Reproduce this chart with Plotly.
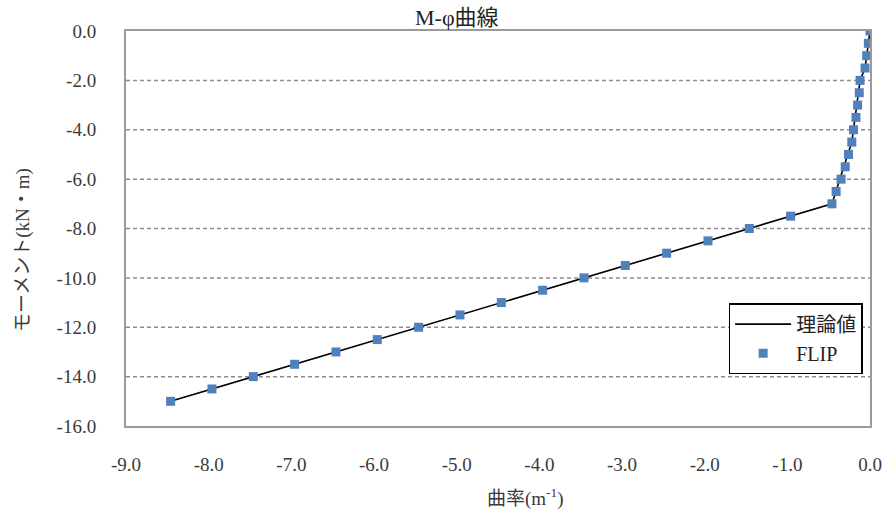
import plotly.graph_objects as go

# Theoretical M-phi relation
theory_phi = [0.0, -0.06, -0.12, -0.22, -0.46, -8.46]
theory_m = [0.0, -1.5, -2.0, -4.5, -7.0, -15.0]

# FLIP results
flip_phi = [0.0, -0.02, -0.04, -0.06, -0.12, -0.13, -0.15, -0.17, -0.20, -0.22,
            -0.26, -0.30, -0.35, -0.41, -0.46,
            -0.96, -1.46, -1.96, -2.46, -2.96, -3.46, -3.96, -4.46, -4.96,
            -5.46, -5.96, -6.46, -6.96, -7.46, -7.96, -8.46]
flip_m = [0.0, -0.5, -1.0, -1.5, -2.0, -2.5, -3.0, -3.5, -4.0, -4.5,
          -5.0, -5.5, -6.0, -6.5, -7.0,
          -7.5, -8.0, -8.5, -9.0, -9.5, -10.0, -10.5, -11.0, -11.5,
          -12.0, -12.5, -13.0, -13.5, -14.0, -14.5, -15.0]

x_ticks = [-9.0, -8.0, -7.0, -6.0, -5.0, -4.0, -3.0, -2.0, -1.0, 0.0]
y_ticks = [0.0, -2.0, -4.0, -6.0, -8.0, -10.0, -12.0, -14.0, -16.0]

SERIF = "Liberation Serif, Times New Roman, Noto Sans CJK JP, serif"
TXT = "#3a3a3a"

fig = go.Figure()
fig.add_trace(go.Scatter(
    x=theory_phi, y=theory_m, mode="lines", name="理論値",
    line=dict(color="#000000", width=1.6),
))
fig.add_trace(go.Scatter(
    x=flip_phi, y=flip_m, mode="markers", name="FLIP",
    marker=dict(symbol="square", size=9, color="#4F81BD"),
))

# horizontal dashed gridlines
for v in y_ticks[1:-1]:
    fig.add_shape(type="line", xref="paper", x0=0, x1=1, yref="y", y0=v, y1=v,
                  line=dict(color="#8c8c8c", width=1.5, dash="4px,3px"), layer="below")

fig.update_layout(
    width=894, height=517,
    margin=dict(l=126, r=16, t=31, b=91),
    paper_bgcolor="white", plot_bgcolor="white",
    font=dict(family=SERIF, size=19, color=TXT),
    showlegend=True,
    legend=dict(
        x=0.81, y=0.311, xanchor="left", yanchor="top",
        bgcolor="white", bordercolor="#000000", borderwidth=1.5,
        font=dict(family=SERIF, size=20, color="#222222"),
        itemwidth=56, tracegroupgap=4,
    ),
    xaxis=dict(
        range=[-9, 0], tickvals=x_ticks, ticktext=[f"{v:.1f}" for v in x_ticks],
        showgrid=False, zeroline=False, showline=True, mirror=True,
        linecolor="#9a9a9a", linewidth=2, ticks="", ticklabelstandoff=20,
        tickfont=dict(family=SERIF, size=19, color=TXT),
    ),
    yaxis=dict(
        range=[-16, 0], tickvals=y_ticks, ticktext=[f"{v:.1f}" for v in y_ticks],
        showgrid=False, zeroline=False, showline=True, mirror=True,
        linecolor="#9a9a9a", linewidth=2, ticks="", ticklabelstandoff=24,
        tickfont=dict(family=SERIF, size=19, color=TXT),
    ),
    annotations=[
        dict(text="M-φ曲線", xref="paper", yref="paper", x=0.4455, y=(426 - 17) / 395,
             xanchor="center", yanchor="middle",
             showarrow=False, font=dict(family=SERIF, size=22, color="#222222")),
        dict(text="曲率(m<sup>-1</sup>)", xref="paper", yref="paper", x=(530 - 126) / 752,
             y=(426 - 497) / 395, xanchor="center", yanchor="middle",
             showarrow=False, font=dict(family=SERIF, size=19, color=TXT)),
        dict(text="モーメント(kN・m)", xref="paper", yref="paper", x=(22 - 126) / 752,
             y=(426 - 250) / 395, xanchor="center", yanchor="middle",
             textangle=-90, showarrow=False, font=dict(family=SERIF, size=19, color=TXT)),
    ],
)

fig.write_html("out.html")
